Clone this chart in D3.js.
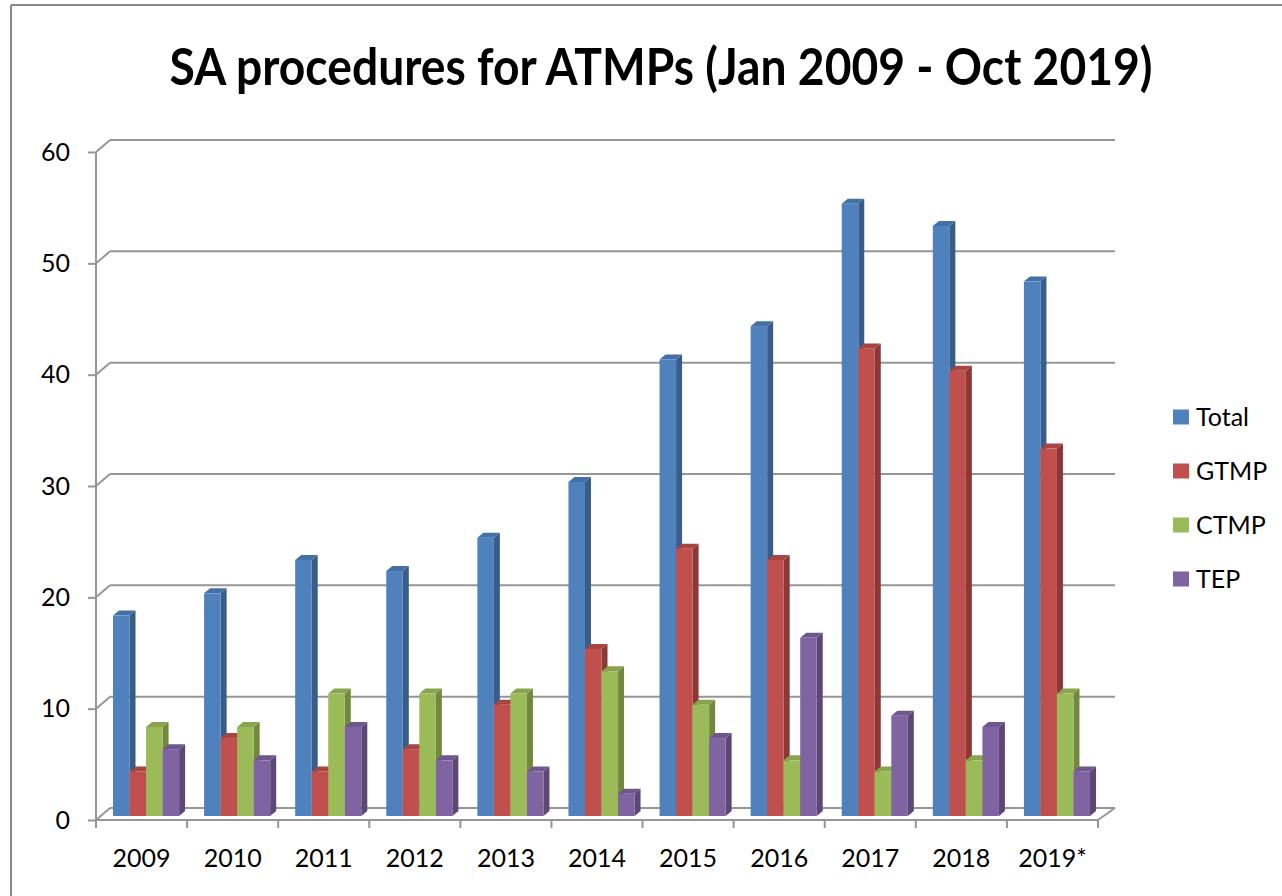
<!DOCTYPE html>
<html>
<head>
	<title>SA procedures for ATMPs</title>
	<script src="https://cdn.jsdelivr.net/npm/d3@7"></script>
	<style type="text/css">
	html, body{
		margin:0;
		background:#fff;
	}
	svg text{
		font-family: Lato, "Open Sans", sans-serif;
		fill:#000;
	}
	.grid{
		stroke:#969696;
		stroke-width:2;
		fill:none;
	}
	</style>
</head>
<body>
<svg id="chart" width="1282" height="896"></svg>
<script type="text/javascript">
	// values
	var years = ["2009","2010","2011","2012","2013","2014","2015","2016","2017","2018","2019*"];
	var seriesNames = ["Total","GTMP","CTMP","TEP"];
	var total = [18,20,23,22,25,30,41,44,55,53,48];
	var gtmp  = [4,7,4,6,10,15,24,23,42,40,33];
	var ctmp  = [8,8,11,11,11,13,10,5,4,5,11];
	var tep   = [6,5,8,5,4,2,7,16,9,8,4];
	var yTicks = [0,10,20,30,40,50,60];

	var colors = {
		Total: {front:"#4F81BD", side:"#385D8A", top:"#4470A8"},
		GTMP:  {front:"#C0504D", side:"#8C3836", top:"#A84441"},
		CTMP:  {front:"#9BBB59", side:"#71893F", top:"#88A54D"},
		TEP:   {front:"#8064A2", side:"#5C4776", top:"#6F568E"}
	};

	var svg = d3.select("#chart");

	// outer frame (only top and left edges show)
	svg.append("line").attr("x1",11).attr("y1",5).attr("x2",1282).attr("y2",5)
		.attr("stroke","#888").attr("stroke-width",2);
	svg.append("line").attr("x1",11).attr("y1",5).attr("x2",11).attr("y2",896)
		.attr("stroke","#888").attr("stroke-width",2);

	// title
	svg.append("text")
		.attr("x",661).attr("y",85)
		.attr("text-anchor","middle")
		.attr("font-size",52)
		.attr("font-weight","bold")
		.attr("textLength",983)
		.attr("lengthAdjust","spacingAndGlyphs")
		.text("SA procedures for ATMPs (Jan 2009 - Oct 2019)");

	/* 3d planes: back wall origin, front axis offset, bar plane offset */
	var backX = 110, backY = 808;
	var frontDX = -14, frontDY = 12;
	var barDX = -9.5, barDY = 8;
	var depthX = 6, depthY = -5;

	var y = d3.scaleLinear().domain([0,60]).range([backY,140]);
	var x0 = d3.scaleBand().domain(years).range([0,1002]);
	var x1 = d3.scaleBand().domain(seriesNames).range([12.5,78.6]);

	// back wall gridlines + left wall diagonals
	var grid = svg.append("g");
	yTicks.forEach(function(v){
		grid.append("line").attr("class","grid")
			.attr("x1",backX).attr("y1",y(v)).attr("x2",backX+1005).attr("y2",y(v));
		grid.append("line").attr("class","grid")
			.attr("x1",backX+frontDX).attr("y1",y(v)+frontDY).attr("x2",backX).attr("y2",y(v));
	});
	// floor front edge and right edge
	grid.append("line").attr("class","grid")
		.attr("x1",backX+frontDX).attr("y1",backY+frontDY)
		.attr("x2",backX+frontDX+1002).attr("y2",backY+frontDY);
	grid.append("line").attr("class","grid")
		.attr("x1",backX+frontDX+1002).attr("y1",backY+frontDY)
		.attr("x2",backX+1005).attr("y2",backY);

	// y axis on the front plane
	var yFront = d3.scaleLinear().domain([0,60]).range([backY+frontDY, y(60)+frontDY]);
	var yAxis = svg.append("g")
		.attr("transform","translate(" + (backX+frontDX) + ",0)")
		.call(d3.axisLeft(yFront).tickValues(yTicks).tickSize(8).tickSizeOuter(0).tickPadding(18));
	yAxis.selectAll("path,line").attr("stroke","#969696").attr("stroke-width",2);
	yAxis.select(".domain").attr("d","M0," + yFront(60) + "V" + (yFront(0)+8));
	yAxis.selectAll("text").attr("font-size",25).attr("fill","#000")
		.attr("font-family","Lato, 'Open Sans', sans-serif");

	// x axis labels + boundary ticks
	var xAxis = svg.append("g")
		.attr("transform","translate(" + (backX+frontDX) + "," + (backY+frontDY) + ")")
		.call(d3.axisBottom(x0).tickSize(0).tickSizeOuter(0));
	xAxis.select(".domain").remove();
	xAxis.selectAll("text").attr("y",47).attr("dy",0).attr("font-size",25).attr("fill","#000")
		.attr("font-family","Lato, 'Open Sans', sans-serif");
	years.concat(["end"]).forEach(function(yr,i){
		var xx = (i < years.length ? x0(yr) : x0.range()[1]);
		xAxis.append("line").attr("class","grid")
			.attr("x1",xx).attr("x2",xx).attr("y1",0).attr("y2",8);
	});

	// bars
	var rows = years.map(function(yr,i){
		return {year:yr, Total:total[i], GTMP:gtmp[i], CTMP:ctmp[i], TEP:tep[i]};
	});
	var bars = svg.append("g");
	rows.forEach(function(r){
		seriesNames.forEach(function(s){
			var xl = backX + barDX + x0(r.year) + x1(s);
			var xr = xl + x1.bandwidth();
			var yb = backY + barDY;
			var yt = y(r[s]) + barDY;
			var c = colors[s];
			bars.append("polygon")
				.attr("points",[[xr,yt],[xr+depthX,yt+depthY],[xr+depthX,yb+depthY],[xr,yb]].join(" "))
				.attr("fill",c.side);
			bars.append("polygon")
				.attr("points",[[xl,yt],[xl+depthX,yt+depthY],[xr+depthX,yt+depthY],[xr,yt]].join(" "))
				.attr("fill",c.top);
			bars.append("rect")
				.attr("x",xl).attr("y",yt)
				.attr("width",x1.bandwidth()).attr("height",yb-yt)
				.attr("fill",c.front);
		});
	});

	// legend
	var legend = svg.append("g").attr("transform","translate(1173,0)");
	var legendY = d3.scalePoint().domain(seriesNames).range([417,579]);
	seriesNames.forEach(function(s){
		legend.append("rect")
			.attr("x",0).attr("y",legendY(s)-7.5)
			.attr("width",16).attr("height",15)
			.attr("fill",colors[s].front);
		legend.append("text")
			.attr("x",23).attr("y",legendY(s)+9)
			.attr("font-size",25)
			.text(s);
	});
</script>
</body>
</html>
